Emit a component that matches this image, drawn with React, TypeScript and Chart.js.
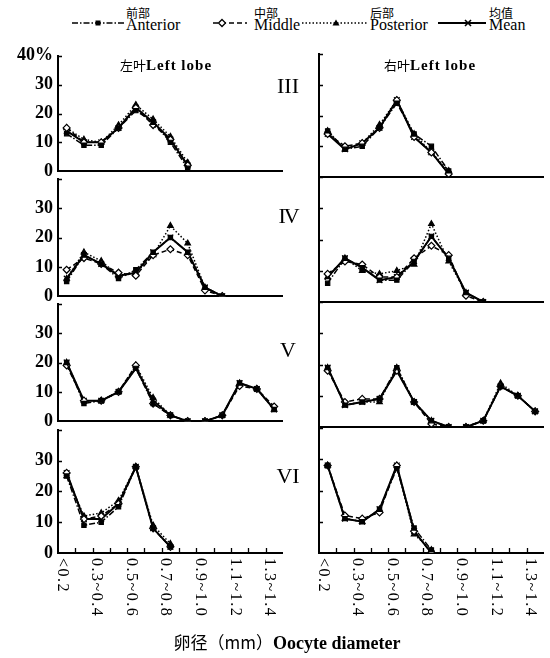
import React, { useEffect, useRef } from 'react';
import { Chart, registerables } from 'chart.js';

Chart.register(...registerables);

// ---------- data ----------
const CATEGORIES = ['<0.2', '0.2~0.3', '0.3~0.4', '0.4~0.5', '0.5~0.6', '0.6~0.7', '0.7~0.8', '0.8~0.9', '0.9~1.0', '1.0~1.1', '1.1~1.2', '1.2~1.3', '1.3~1.4'];
const Y_TICKS = [0, 10, 20, 30, 40];
const STAGES = ['III', 'IV', 'V', 'VI'];
const LOBE_ZH = ['左叶', '右叶'];
const LOBE_EN = ['Left lobe', 'Left lobe'];
const SERIES_ZH = ['前部', '中部', '后部', '均值'];
const SERIES_EN = ['Anterior', 'Middle', 'Posterior', 'Mean'];
const AXIS_TITLE_ZH = '卵径（mm）';
const AXIS_TITLE_EN = 'Oocyte diameter';

// Stage III
const leftIII_anterior = [13, 9, 9, 15, 21, 17, 10, 1];
const leftIII_middle = [15, 10, 10, 15, 22, 16, 11, 2];
const leftIII_posterior = [15, 11, 10, 16, 23, 18, 12, 3];
const leftIII_mean = [14, 10, 10, 15, 22, 17, 11, 2];
const rightIII_anterior = [15, 9, 10, 16, 24, 14, 10, 2];
const rightIII_middle = [14, 10, 11, 16, 25, 13, 8, 1];
const rightIII_posterior = [15, 9, 11, 17, 25, 14, 8, 2];
const rightIII_mean = [14, 9, 11, 16, 25, 13, 8, 1];
// Stage IV
const leftIV_anterior = [5, 14, 11, 6, 9, 15, 20, 15, 3, 0];
const leftIV_middle = [9, 13, 11, 8, 7, 14, 16, 14, 2, 0];
const leftIV_posterior = [6, 15, 12, 7, 8, 14, 24, 18, 3, 0];
const leftIV_mean = [6, 14, 11, 7, 8, 15, 20, 15, 3, 0];
const rightIV_anterior = [6, 14, 11, 7, 7, 13, 21, 14, 3, 0];
const rightIV_middle = [9, 13, 12, 8, 8, 14, 18, 15, 2, 0];
const rightIV_posterior = [8, 14, 10, 9, 10, 12, 25, 13, 3, 0];
const rightIV_mean = [8, 14, 11, 7, 8, 13, 21, 14, 3, 0];
// Stage V
const leftV_anterior = [20, 6, 7, 10, 18, 6, 2, 0, 0, 2, 13, 11, 4];
const leftV_middle = [19, 7, 7, 10, 19, 6, 2, 0, 0, 2, 12, 11, 5];
const leftV_posterior = [20, 7, 7, 10, 19, 8, 2, 0, 0, 2, 13, 11, 4];
const leftV_mean = [20, 7, 7, 10, 18, 7, 2, 0, 0, 2, 13, 11, 4];
const rightV_anterior = [19, 7, 8, 9, 19, 8, 2, 0, 0, 2, 13, 10, 5];
const rightV_middle = [18, 8, 9, 9, 18, 8, 1, 0, 0, 2, 13, 10, 5];
const rightV_posterior = [19, 7, 8, 8, 19, 8, 2, 0, 0, 2, 14, 10, 5];
const rightV_mean = [19, 7, 8, 9, 18, 8, 2, 0, 0, 2, 13, 10, 5];
// Stage VI
const leftVI_anterior = [25, 9, 10, 15, 28, 8, 2];
const leftVI_middle = [26, 11, 12, 16, 28, 8, 2];
const leftVI_posterior = [25, 12, 13, 17, 28, 9, 3];
const leftVI_mean = [26, 11, 11, 16, 28, 8, 2];
const rightVI_anterior = [28, 11, 10, 14, 27, 8, 1];
const rightVI_middle = [28, 12, 11, 13, 28, 7, 0];
const rightVI_posterior = [28, 11, 10, 14, 28, 6, 1];
const rightVI_mean = [28, 11, 10, 14, 28, 7, 0];

const PANEL_DATA = [
  [[leftIII_anterior, leftIII_middle, leftIII_posterior, leftIII_mean], [rightIII_anterior, rightIII_middle, rightIII_posterior, rightIII_mean]],
  [[leftIV_anterior, leftIV_middle, leftIV_posterior, leftIV_mean], [rightIV_anterior, rightIV_middle, rightIV_posterior, rightIV_mean]],
  [[leftV_anterior, leftV_middle, leftV_posterior, leftV_mean], [rightV_anterior, rightV_middle, rightV_posterior, rightV_mean]],
  [[leftVI_anterior, leftVI_middle, leftVI_posterior, leftVI_mean], [rightVI_anterior, rightVI_middle, rightVI_posterior, rightVI_mean]],
];

// ---------- layout / style ----------
const SERIF = '"Liberation Serif", "Times New Roman", serif';
const CJK = '"Noto Sans CJK SC", sans-serif';
const COL_LEFT = [58, 319];
const Y_W = [58, 12];
const PLOT_W = 226;
const PAD_R = 4;
const ROW_TOP = [54, 177, 302, 428];
const ROW_H = [123, 125, 125, 125];
const PAD_T = 14;
const PAD_B = [10, 10, 10, 80];

const SERIES_STYLE = [
  { dash: [6, 2, 1.5, 2], point: 'rect', radius: 3, fill: '#000', width: 1.5 },
  { dash: [5, 3], point: 'rectRot', radius: 3.5, fill: '#fff', width: 1.5 },
  { dash: [1.5, 2], point: 'triangle', radius: 3.2, fill: '#000', width: 1.5 },
  { dash: [], point: 'crossRot', radius: 4, fill: '#000', width: 2 },
];

const axisDecor = {
  id: 'axisDecor',
  afterDraw(chart: any, _args: any, opts: any) {
    const { ctx, chartArea, scales } = chart;
    const x = scales.x;
    const y = scales.y;
    ctx.save();
    ctx.strokeStyle = '#000';
    ctx.lineWidth = 1.3;
    ctx.beginPath();
    for (const v of Y_TICKS) {
      if (v === 0) continue;
      const py = Math.round(y.getPixelForValue(v)) + 0.5;
      ctx.moveTo(chartArea.left, py);
      ctx.lineTo(chartArea.left + 4, py);
    }
    ctx.stroke();
    if (opts.bottom) {
      const step = x.getPixelForValue(1) - x.getPixelForValue(0);
      ctx.beginPath();
      for (let i = 1; i < CATEGORIES.length; i++) {
        const px = Math.round(x.getPixelForValue(i) - step / 2) + 0.5;
        ctx.moveTo(px, chartArea.bottom);
        ctx.lineTo(px, chartArea.bottom - 5);
      }
      ctx.stroke();
      ctx.fillStyle = '#000';
      ctx.font = `16px ${SERIF}`;
      try { (ctx as any).letterSpacing = '1.5px'; } catch (e) { /* ignore */ }
      ctx.textAlign = 'left';
      ctx.textBaseline = 'middle';
      for (let i = 0; i < CATEGORIES.length; i += 2) {
        const px = x.getPixelForValue(i) - 0.28 * step;
        ctx.save();
        ctx.translate(px, chartArea.bottom + 5);
        ctx.rotate(Math.PI / 2);
        ctx.fillText(CATEGORIES[i], 0, 0);
        ctx.restore();
      }
    }
    ctx.restore();
  },
};

function buildConfig(r: number, c: number): any {
  const series = PANEL_DATA[r][c];
  const order = [0, 1, 2, 3];
  return {
    type: 'line',
    data: {
      labels: CATEGORIES,
      datasets: order.map((k) => ({
        label: SERIES_EN[k],
        data: series[k],
        borderColor: '#000',
        borderWidth: SERIES_STYLE[k].width,
        borderDash: SERIES_STYLE[k].dash,
        pointStyle: SERIES_STYLE[k].point,
        pointRadius: SERIES_STYLE[k].radius,
        pointBackgroundColor: SERIES_STYLE[k].fill,
        pointBorderColor: '#000',
        pointBorderWidth: 1.2,
        tension: 0,
        fill: false,
      })),
    },
    plugins: [axisDecor],
    options: {
      animation: false,
      responsive: true,
      maintainAspectRatio: false,
      events: [],
      layout: { padding: { top: PAD_T, right: PAD_R, left: 0, bottom: 0 } },
      plugins: {
        legend: { display: false },
        tooltip: { enabled: false },
        axisDecor: { bottom: r === 3 },
      },
      scales: {
        x: {
          type: 'category',
          offset: true,
          grid: { display: true, drawOnChartArea: false, drawTicks: false, color: 'rgba(0,0,0,0)' },
          border: { display: true, color: '#000', width: 2 },
          ticks: { display: false },
          afterFit: (s: any) => { s.height = PAD_B[r]; },
        },
        y: {
          min: 0,
          max: 40,
          grid: { display: true, drawOnChartArea: false, drawTicks: false, color: 'rgba(0,0,0,0)' },
          border: { display: true, color: '#000', width: 2 },
          ticks: {
            display: c === 0,
            stepSize: 10,
            padding: 5,
            color: '#000',
            font: { family: SERIF, size: 18, weight: 'bold' },
            callback: (v: number) => (v === 40 ? (r === 0 ? '40%' : '') : String(v)),
          },
          afterFit: (s: any) => { s.width = Y_W[c]; },
        },
      },
    },
  };
}

const PANELS: { r: number; c: number }[] = [];
for (let r = 0; r < 4; r++) for (let c = 0; c < 2; c++) PANELS.push({ r, c });

// legend sample geometry
const LEG_ITEMS = [
  { x1: 72, x2: 124, mx: 98, tx: 126 },
  { x1: 213, x2: 247, mx: 222, tx: 254 },
  { x1: 302, x2: 368, mx: 336, tx: 370 },
  { x1: 438, x2: 486, mx: 468, tx: 489 },
];
const LEG_Y = 23;

function Marker({ k, x, y }: { k: number; x: number; y: number }) {
  if (k === 0) return <rect x={x - 2.5} y={y - 2.5} width={5} height={5} fill="#000" />;
  if (k === 1) return <polygon points={`${x},${y - 3.5} ${x + 3.5},${y} ${x},${y + 3.5} ${x - 3.5},${y}`} fill="#fff" stroke="#000" strokeWidth={1.3} />;
  if (k === 2) return <polygon points={`${x},${y - 3.5} ${x + 3.5},${y + 2.5} ${x - 3.5},${y + 2.5}`} fill="#000" />;
  return (
    <g stroke="#000" strokeWidth={1.6}>
      <line x1={x - 3} y1={y - 3} x2={x + 3} y2={y + 3} />
      <line x1={x - 3} y1={y + 3} x2={x + 3} y2={y - 3} />
    </g>
  );
}

export default function App() {
  const refs = useRef<(HTMLCanvasElement | null)[]>([]);

  useEffect(() => {
    const charts = PANELS.map((p, i) => new Chart(refs.current[i] as HTMLCanvasElement, buildConfig(p.r, p.c)));
    return () => charts.forEach((ch) => ch.destroy());
  }, []);

  const stageY = [86, 216, 350, 476];

  return (
    <div style={{ position: 'absolute', left: 0, top: 0, width: 550, height: 658, background: '#fff', overflow: 'hidden', color: '#000' }}>
      {/* legend */}
      <svg width={550} height={40} style={{ position: 'absolute', left: 0, top: 0 }}>
        {LEG_ITEMS.map((it, k) => (
          <g key={k}>
            <line x1={it.x1} y1={LEG_Y} x2={it.x2} y2={LEG_Y} stroke="#000" strokeWidth={k === 3 ? 2 : 1.5}
              strokeDasharray={SERIES_STYLE[k].dash.length ? SERIES_STYLE[k].dash.join(' ') : undefined} />
            <Marker k={k} x={it.mx} y={LEG_Y} />
          </g>
        ))}
      </svg>
      {LEG_ITEMS.map((it, k) => (
        <React.Fragment key={k}>
          <div style={{ position: 'absolute', left: it.tx, top: 7, fontFamily: CJK, fontSize: 12, lineHeight: '12px', whiteSpace: 'nowrap' }}>{SERIES_ZH[k]}</div>
          <div style={{ position: 'absolute', left: it.tx, top: 17, fontFamily: SERIF, fontSize: 16, lineHeight: '15px', whiteSpace: 'nowrap' }}>{SERIES_EN[k]}</div>
        </React.Fragment>
      ))}

      {/* panels */}
      {PANELS.map((p, i) => {
        const left = COL_LEFT[p.c] - Y_W[p.c];
        const top = ROW_TOP[p.r] - PAD_T;
        const w = Y_W[p.c] + PLOT_W + PAD_R;
        const h = PAD_T + ROW_H[p.r] + PAD_B[p.r];
        return (
          <div key={i} style={{ position: 'absolute', left, top, width: w, height: h }}>
            <canvas ref={(el) => { refs.current[i] = el; }} />
          </div>
        );
      })}

      {/* lobe titles */}
      {[166, 430].map((cx, c) => (
        <div key={c} style={{ position: 'absolute', left: cx - 60, width: 120, top: 56, textAlign: 'center', whiteSpace: 'nowrap', lineHeight: '18px' }}>
          <span style={{ fontFamily: CJK, fontSize: 13 }}>{LOBE_ZH[c]}</span>
          <span style={{ fontFamily: SERIF, fontSize: 15, fontWeight: 'bold', letterSpacing: 1 }}>{LOBE_EN[c]}</span>
        </div>
      ))}

      {/* stage numerals */}
      {STAGES.map((s, r) => (
        <div key={s} style={{ position: 'absolute', left: 263, width: 50, top: stageY[r] - 13, textAlign: 'center', fontFamily: SERIF, fontSize: 22, lineHeight: '26px', letterSpacing: s === 'IV' ? -2 : 0 }}>{s}</div>
      ))}

      {/* x axis title */}
      <div style={{ position: 'absolute', left: 0, width: 574, top: 630, textAlign: 'center', whiteSpace: 'nowrap', lineHeight: '24px' }}>
        <span style={{ fontFamily: CJK, fontSize: 17 }}>{AXIS_TITLE_ZH}</span>
        <span style={{ fontFamily: SERIF, fontSize: 18, fontWeight: 'bold' }}>{AXIS_TITLE_EN}</span>
      </div>
    </div>
  );
}
